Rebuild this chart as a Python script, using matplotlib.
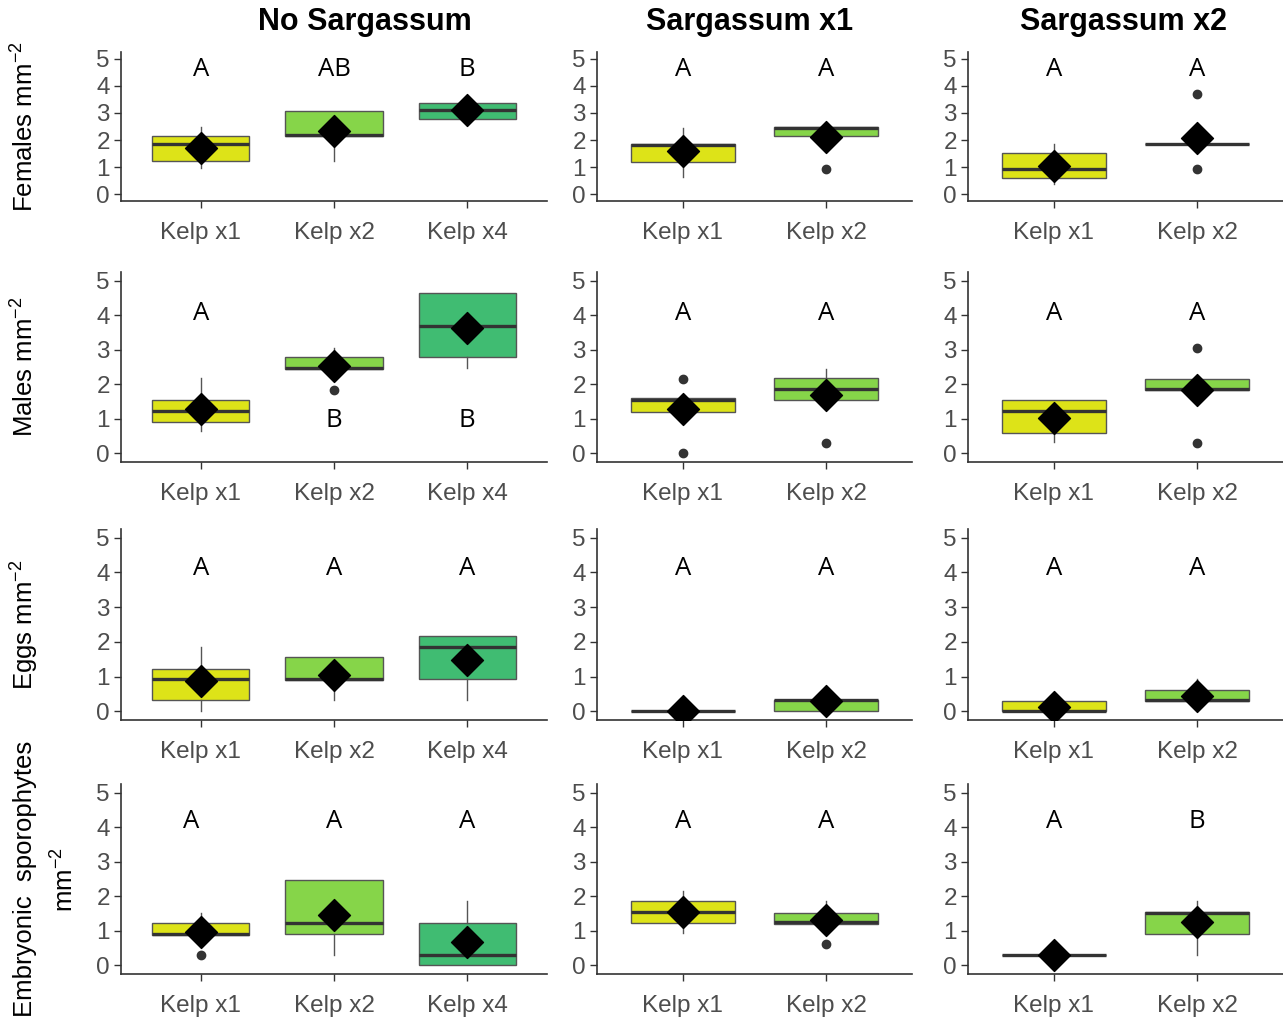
import numpy as np
import matplotlib.pyplot as plt
from matplotlib.path import Path

plt.rcParams['font.family'] = ['Liberation Sans', 'DejaVu Sans']
plt.rcParams['mathtext.default'] = 'regular'

# treatments and response variables
col_titles = ["No Sargassum", "Sargassum x1", "Sargassum x2"]
col_cats = [["Kelp x1", "Kelp x2", "Kelp x4"], ["Kelp x1", "Kelp x2"], ["Kelp x1", "Kelp x2"]]
row_labels = ["Females mm$^{-2}$", "Males mm$^{-2}$", "Eggs mm$^{-2}$",
              "Embryonic  sporophytes"]

# box statistics [row][column][category]
whislo = [
    [[0.97, 1.24, 2.62], [0.63, 2.15], [0.37, 1.85]],
    [[0.64, 2.30, 2.48], [1.00, 1.30], [0.32, 1.82]],
    [[0.00, 0.34, 0.34], [0.00, 0.00], [0.00, 0.31]],
    [[0.89, 0.31, 0.00], [0.94, 1.21], [0.30, 0.31]],
]
q1 = [
    [[1.22, 2.16, 2.79], [1.20, 2.15], [0.59, 1.85]],
    [[0.92, 2.44, 2.78], [1.21, 1.54], [0.59, 1.82]],
    [[0.32, 0.91, 0.94], [0.00, 0.00], [0.00, 0.31]],
    [[0.89, 0.91, 0.00], [1.23, 1.21], [0.30, 0.91]],
]
med = [
    [[1.85, 2.18, 3.10], [1.80, 2.44], [0.93, 1.85]],
    [[1.23, 2.47, 3.69], [1.55, 1.86], [1.22, 1.85]],
    [[0.94, 0.94, 1.85], [0.00, 0.32], [0.00, 0.32]],
    [[0.92, 1.23, 0.31], [1.55, 1.25], [0.30, 1.52]],
]
q3 = [
    [[2.16, 3.08, 3.37], [1.86, 2.49], [1.54, 1.85]],
    [[1.54, 2.78, 4.63], [1.59, 2.17], [1.54, 2.16]],
    [[1.22, 1.56, 2.17], [0.00, 0.33], [0.31, 0.61]],
    [[1.23, 2.48, 1.22], [1.85, 1.52], [0.30, 1.55]],
]
whishi = [
    [[2.47, 3.08, 3.50], [2.46, 2.49], [1.85, 1.85]],
    [[2.18, 3.06, 4.63], [1.70, 2.45], [1.54, 2.16]],
    [[1.86, 1.56, 2.17], [0.00, 0.33], [0.31, 0.92]],
    [[1.52, 2.48, 1.86], [2.16, 1.85], [0.30, 1.85]],
]
outliers = [
    [[[], [], []], [[], [0.93]], [[], [3.70, 0.93]]],
    [[[], [1.82], []], [[2.16, 0.00], [0.30]], [[], [3.06, 0.30]]],
    [[[], [], []], [[], []], [[], []]],
    [[[0.29], [], []], [[], [0.62]], [[], []]],
]
means = [
    [[1.70, 2.34, 3.12], [1.61, 2.11], [1.05, 2.07]],
    [[1.29, 2.52, 3.63], [1.29, 1.70], [1.03, 1.84]],
    [[0.87, 1.06, 1.48], [0.00, 0.29], [0.13, 0.45]],
    [[0.97, 1.46, 0.67], [1.55, 1.30], [0.30, 1.25]],
]

# Tukey letters and their heights
letters = [
    [["A", "AB", "B"], ["A", "A"], ["A", "A"]],
    [["A", "B", "B"], ["A", "A"], ["A", "A"]],
    [["A", "A", "A"], ["A", "A"], ["A", "A"]],
    [["A", "A", "A"], ["A", "A"], ["A", "B"]],
]
letter_y = [
    [[4.62, 4.62, 4.62], [4.62, 4.62], [4.62, 4.62]],
    [[4.05, 0.95, 0.95], [4.05, 4.05], [4.05, 4.05]],
    [[4.1, 4.1, 4.1], [4.1, 4.1], [4.1, 4.1]],
    [[4.15, 4.15, 4.15], [4.15, 4.15], [4.15, 4.15]],
]

kelp_colors = {"Kelp x1": "#DDE318", "Kelp x2": "#86D549", "Kelp x4": "#40BC72"}
diamond = Path([(0, 1), (1, 0), (0, -1), (-1, 0), (0, 1)],
               [Path.MOVETO, Path.LINETO, Path.LINETO, Path.LINETO, Path.CLOSEPOLY])

W, H = 1283, 1019
fig = plt.figure(figsize=(W / 100, H / 100), dpi=100)

col_px = [(121, 547), (597, 912), (968, 1283)]
row_px = [(52, 201), (272, 462), (529, 720), (784, 974)]
title_x = [365, 750, 1123]

for r in range(4):
    top, bot = row_px[r]
    for c in range(3):
        left, right = col_px[c]
        ax = fig.add_axes([left / W, 1 - bot / H, (right - left) / W, (bot - top) / H])
        cats = col_cats[c]
        pos = np.arange(1, len(cats) + 1)
        stats = []
        for k in range(len(cats)):
            stats.append(dict(whislo=whislo[r][c][k], q1=q1[r][c][k], med=med[r][c][k],
                              q3=q3[r][c][k], whishi=whishi[r][c][k],
                              fliers=outliers[r][c][k]))
        bp = ax.bxp(stats, positions=pos, widths=0.73, patch_artist=True,
                    showcaps=False,
                    boxprops=dict(edgecolor="#555555", linewidth=1.0),
                    medianprops=dict(color="#333333", linewidth=2.4, solid_capstyle="butt"),
                    whiskerprops=dict(color="#555555", linewidth=1.0),
                    flierprops=dict(marker="o", markersize=6, markerfacecolor="#333333",
                                    markeredgecolor="#333333"))
        for patch, cat in zip(bp["boxes"], cats):
            patch.set_facecolor(kelp_colors[cat])
        ax.plot(pos, means[r][c], linestyle="none", marker=diamond, markersize=23,
                color="black", zorder=5)
        for k in range(len(cats)):
            dx = -0.07 if (r == 3 and c == 0 and k == 0) else 0
            ax.text(pos[k] + dx, letter_y[r][c][k], letters[r][c][k], ha="center",
                    va="center", fontsize=18.5, family=["Open Sans", "DejaVu Sans"],
                    color="black")

        ax.set_xlim(0.4, len(cats) + 0.6)
        ax.set_ylim(-0.25, 5.25)
        ax.set_yticks(range(6))
        ax.set_xticks(pos)
        ax.set_xticklabels(cats)
        for side in ["top", "right"]:
            ax.spines[side].set_visible(False)
        for side in ["left", "bottom"]:
            ax.spines[side].set_color("#333333")
            ax.spines[side].set_linewidth(1.2)
        ax.tick_params(axis="both", colors="#333333", labelcolor="#4D4D4D",
                       labelsize=17.5, length=5, width=1.0)
        ax.tick_params(axis="y", pad=3)
        ax.tick_params(axis="x", pad=10)
        ax.set_facecolor("none")

    lab_y = 1 - (top + bot) / 2 / H
    fig.text(25 / W, lab_y, row_labels[r], rotation=90, ha="center", va="center",
             fontsize=18.5)

# second line of the sporophyte label
fig.text(65 / W, 1 - 880 / H, "mm$^{-2}$", rotation=90, ha="center", va="center",
         fontsize=18.5)

for c in range(3):
    fig.text(title_x[c] / W, 1 - 22 / H, col_titles[c], ha="center", va="center",
             fontsize=22, fontweight="bold")

fig.savefig("out.png", dpi=100)
